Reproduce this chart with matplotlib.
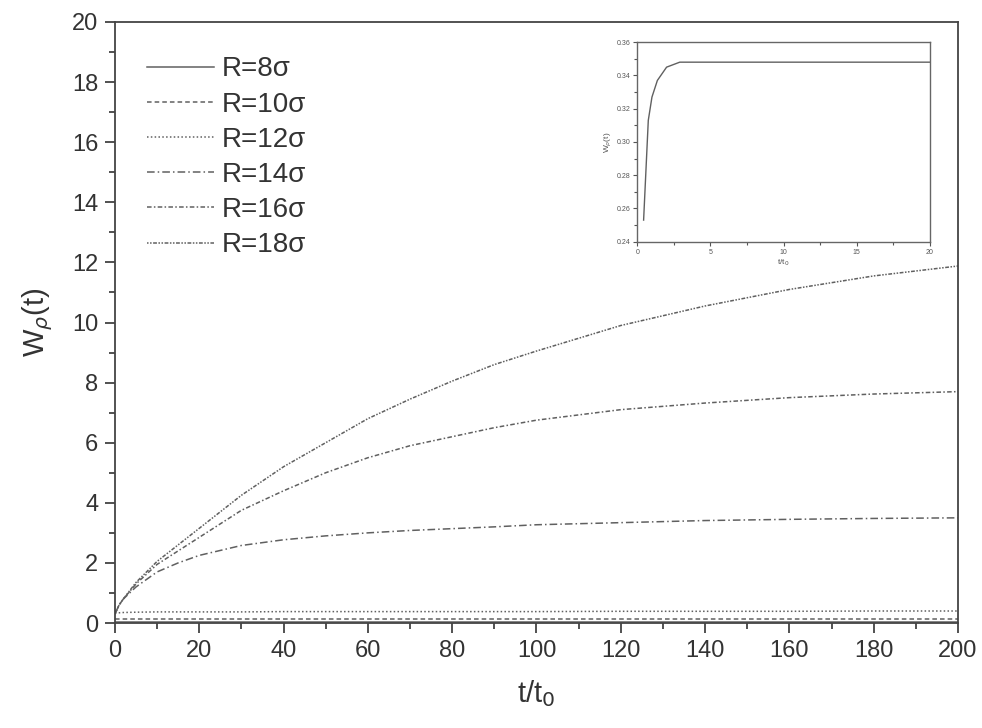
import numpy as np
import matplotlib.pyplot as plt
from matplotlib.ticker import MultipleLocator

plt.rcParams['font.family'] = ['Liberation Sans', 'DejaVu Sans']

# main panel readings
t = [0, 1, 2, 5, 10, 15, 20, 30, 40, 50, 60, 70, 80, 90, 100, 120, 140, 160, 180, 200]
w_r8 = [0.03] * len(t)
w_r10 = [0.12] * len(t)
w_r12 = [0.33, 0.34, 0.35, 0.36, 0.37, 0.37, 0.37, 0.37, 0.38, 0.38, 0.38, 0.38,
         0.38, 0.38, 0.38, 0.39, 0.39, 0.39, 0.40, 0.40]
w_r14 = [0.3, 0.6, 0.8, 1.2, 1.7, 2.0, 2.25, 2.58, 2.77, 2.9, 3.0, 3.08, 3.14,
         3.2, 3.27, 3.34, 3.41, 3.45, 3.48, 3.5]
w_r16 = [0.3, 0.6, 0.8, 1.3, 1.95, 2.4, 2.85, 3.75, 4.4, 5.0, 5.5, 5.9, 6.2,
         6.5, 6.75, 7.1, 7.32, 7.5, 7.62, 7.7]
w_r18 = [0.3, 0.6, 0.8, 1.35, 2.05, 2.6, 3.15, 4.25, 5.2, 6.0, 6.8, 7.45, 8.05,
         8.6, 9.05, 9.9, 10.55, 11.1, 11.55, 11.88]
labels = ['R=8σ', 'R=10σ', 'R=12σ', 'R=14σ', 'R=16σ', 'R=18σ']

# inset readings
t_in = [0.43, 0.59, 0.75, 1.0, 1.37, 2.0, 2.9, 5, 10, 15, 20]
w_in = [0.253, 0.283, 0.313, 0.327, 0.337, 0.345, 0.348, 0.348, 0.348, 0.348, 0.348]

styles = ['-', (0, (3, 2)), (0, (1, 1.5)), (0, (5, 2, 1, 2)),
          (0, (3, 1.5, 1, 1.5)), (0, (1, 1, 1, 1, 2.5, 1))]
gray = '#606060'
ink = '#333333'

fig = plt.figure(figsize=(9.82, 7.28), dpi=100)
ax = fig.add_axes([0.117, 0.1442, 0.8586, 0.8256])
series = [w_r8, w_r10, w_r12, w_r14, w_r16, w_r18]
for w, ls, lab in zip(series, styles, labels):
    ax.plot(t, w, linestyle=ls, color=gray, lw=1.1, label=lab)

ax.set_xlim(0, 200)
ax.set_ylim(0, 20)
ax.xaxis.set_major_locator(MultipleLocator(20))
ax.xaxis.set_minor_locator(MultipleLocator(10))
ax.yaxis.set_major_locator(MultipleLocator(2))
ax.yaxis.set_minor_locator(MultipleLocator(1))
ax.tick_params(which='major', direction='out', length=7, width=1.2, labelsize=17,
               colors=ink, pad=5)
ax.tick_params(which='minor', direction='out', length=4, width=1.2, colors=ink)
for s in ax.spines.values():
    s.set_color('#444444')
    s.set_linewidth(1.3)
ax.set_xlabel('t/t$_0$', fontsize=21, color=ink, labelpad=12)
ax.set_ylabel('W$_\\rho$(t)', fontsize=21, color=ink, labelpad=12)

leg = ax.legend(loc='upper left', bbox_to_anchor=(0.015, 0.975), frameon=False,
                fontsize=20, handlelength=2.4, labelspacing=0.33, handletextpad=0.3,
                borderpad=0.2)
for txt in leg.get_texts():
    txt.set_color(ink)

# inset
ins = fig.add_axes([0.649, 0.668, 0.298, 0.274])
ins.plot(t_in, w_in, color=gray, lw=1.0)
ins.set_xlim(0, 20)
ins.set_ylim(0.24, 0.36)
ins.xaxis.set_major_locator(MultipleLocator(5))
ins.xaxis.set_minor_locator(MultipleLocator(2.5))
ins.yaxis.set_major_locator(MultipleLocator(0.02))
ins.yaxis.set_minor_locator(MultipleLocator(0.01))
ins.tick_params(which='major', direction='out', length=3, width=0.8, labelsize=5,
                colors='#555555', pad=2)
ins.tick_params(which='minor', direction='out', length=2, width=0.8, colors='#555555')
for s in ins.spines.values():
    s.set_color('#666666')
    s.set_linewidth(1.0)
ins.set_xlabel('t/t$_0$', fontsize=6, color='#555555', labelpad=1)
ins.set_ylabel('W$_\\rho$(t)', fontsize=6, color='#555555', labelpad=2)

fig.savefig('out.png', dpi=100)
